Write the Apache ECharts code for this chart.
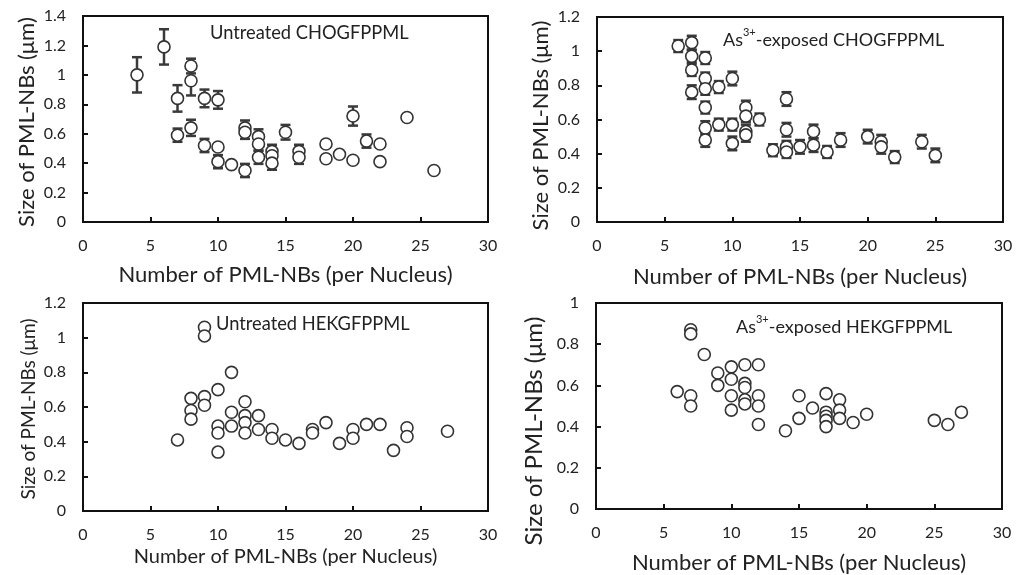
<!DOCTYPE html>
<html><head><meta charset="utf-8">
<script src="https://cdn.jsdelivr.net/npm/echarts@6/dist/echarts.min.js"></script>
<style>html,body{margin:0;padding:0;background:#fff}#c{width:1026px;height:575px}</style>
</head><body><div id="c"></div>
<script>
// Panel A: Untreated CHOGFPPML (x, size, error)
const choUntX   = [4,6,7,7,8,8,8,9,9,10,10,10,11,12,12,12,13,13,13,14,14,14,15,16,16,18,18,19,20,20,21,22,22,24,26];
const choUntY   = [1.00,1.19,0.84,0.59,1.06,0.96,0.64,0.84,0.52,0.83,0.51,0.41,0.39,0.35,0.64,0.61,0.58,0.53,0.44,0.48,0.45,0.40,0.61,0.48,0.44,0.53,0.43,0.46,0.72,0.42,0.55,0.53,0.41,0.71,0.35];
const choUntErr = [0.12,0.12,0.09,0.045,0.05,0.10,0.055,0.06,0.045,0.06,0,0.045,0,0.045,0.05,0.045,0.05,0.045,0.045,0.045,0.045,0.045,0.05,0.045,0.045,0,0,0,0.065,0,0.045,0,0,0,0];
// Panel B: As3+-exposed CHOGFPPML
const choAsX   = [6,7,7,7,7,8,8,8,8,8,8,9,9,10,10,10,11,11,11,11,12,13,14,14,14,14,15,16,16,17,18,20,21,21,22,24,25];
const choAsY   = [1.03,1.05,0.97,0.89,0.76,0.96,0.84,0.78,0.67,0.55,0.48,0.79,0.57,0.84,0.57,0.46,0.67,0.62,0.53,0.51,0.60,0.42,0.72,0.54,0.44,0.41,0.44,0.53,0.45,0.41,0.48,0.50,0.47,0.44,0.38,0.47,0.39];
const choAsErr = [0.035,0.04,0.035,0.035,0.04,0.035,0.035,0.035,0.035,0.04,0.04,0.035,0.035,0.04,0.035,0.04,0.04,0.035,0.04,0.04,0.035,0.035,0.04,0.04,0.035,0.035,0.04,0.04,0.04,0.035,0.04,0.04,0.04,0.04,0.035,0.04,0.04];
// Panel C: Untreated HEKGFPPML
const hekUntX = [7,8,8,8,9,9,9,9,10,10,10,10,11,11,11,12,12,12,12,13,13,14,14,15,16,17,17,18,19,20,20,21,22,23,24,24,27];
const hekUntY = [0.41,0.65,0.58,0.53,1.06,1.01,0.66,0.61,0.70,0.49,0.45,0.34,0.80,0.57,0.49,0.63,0.55,0.51,0.45,0.55,0.47,0.47,0.42,0.41,0.39,0.47,0.45,0.51,0.39,0.47,0.42,0.50,0.50,0.35,0.48,0.43,0.46];
// Panel D: As3+-exposed HEKGFPPML
const hekAsX = [6,7,7,7,7,8,9,9,10,10,10,10,11,11,11,11,11,12,12,12,12,14,15,15,16,17,17,17,17,17,18,18,18,19,20,25,26,27];
const hekAsY = [0.57,0.87,0.85,0.55,0.50,0.75,0.66,0.60,0.69,0.63,0.55,0.48,0.70,0.61,0.59,0.53,0.51,0.70,0.55,0.50,0.41,0.38,0.55,0.44,0.49,0.56,0.47,0.45,0.43,0.40,0.53,0.48,0.44,0.42,0.46,0.43,0.41,0.47];

const xTicks = [0,5,10,15,20,25,30];
const yMaxes = [1.4,1.2,1.2,1.0];
const titles = ['Untreated CHOGFPPML','As3+-exposed CHOGFPPML','Untreated HEKGFPPML','As3+-exposed HEKGFPPML'];
const xName = 'Number of PML-NBs (per Nucleus)';
const yName = 'Size of PML-NBs (μm)';

const FONT = 'Lato, "Open Sans", sans-serif';
const grids = [
  {left:83, top:16, width:405, height:206},
  {left:597, top:17, width:406, height:205},
  {left:83, top:303, width:405, height:208},
  {left:596, top:303, width:406, height:206}
];
const xNameCfg = [{size:22, gap:42},{size:22, gap:44},{size:20, gap:36},{size:22, gap:43}];
const yNameCfg = [{size:22, gap:45, pad:[0,6,0,0]},{size:22, gap:45, pad:[0,12,0,0]},{size:19, gap:45, pad:[0,4,0,0]},{size:24, gap:50, pad:[0,50,0,0]}];

function zip(xs, ys){ return xs.map((x,i)=>[x, ys[i]]); }
function zip3(xs, ys, es){ return xs.map((x,i)=>[x, ys[i], es[i]]); }

const option = {
  backgroundColor:'#fff',
  animation:false,
  textStyle:{fontFamily:FONT},
  grid: grids.map(g=>Object.assign({show:true, borderColor:'#111', borderWidth:2, backgroundColor:'transparent'}, g)),
  xAxis: grids.map((g,i)=>({
    gridIndex:i, type:'value', min:0, max:30, interval:5,
    name:xName, nameLocation:'middle', nameGap: xNameCfg[i].gap,
    nameTextStyle:{fontSize:xNameCfg[i].size, color:'#222', fontFamily:FONT},
    axisLine:{show:true, onZero:false, lineStyle:{color:'#111', width:2}},
    axisTick:{show:true, inside:true, length:5, lineStyle:{color:'#111', width:2}},
    axisLabel:{fontSize:16, color:'#222', margin:16, fontFamily:FONT},
    splitLine:{show:false}
  })),
  yAxis: grids.map((g,i)=>({
    gridIndex:i, type:'value', min:0, max:yMaxes[i], interval:0.2,
    name:yName, nameLocation:'middle', nameGap: yNameCfg[i].gap,
    nameTextStyle:{fontSize:yNameCfg[i].size, color:'#222', fontFamily:FONT, padding:yNameCfg[i].pad},
    axisLine:{show:true, lineStyle:{color:'#111', width:2}},
    axisTick:{show:true, inside:true, length:5, lineStyle:{color:'#111', width:2}},
    axisLabel:{fontSize:16, color:'#222', margin:17, fontFamily:FONT},
    splitLine:{show:false}
  })),
  title: [
    {text:titles[0], left:210, top:24, fs:18.3},
    {text:'{n|As}{s|3+}{n|-exposed CHOGFPPML}', left:723, top:27, fs:18},
    {text:titles[2], left:216, top:315, fs:18.3},
    {text:'{n|As}{s|3+}{n|-exposed HEKGFPPML}', left:736, top:314, fs:18}
  ].map(t=>({
    text:t.text, left:t.left, top:t.top,
    padding:0,
    textStyle:{fontSize:t.fs, fontWeight:'normal', color:'#222', fontFamily:FONT,
      rich:{n:{fontSize:18, color:'#222', fontFamily:FONT, lineHeight:22, verticalAlign:'bottom'},
            s:{fontSize:11, color:'#222', fontFamily:FONT, lineHeight:22, verticalAlign:'top', padding:[0,0,9,0]}}}
  })),
  series: []
};

function errSeries(idx, data){
  return {
    type:'custom', xAxisIndex:idx, yAxisIndex:idx, z:2,
    renderItem:function(params, api){
      const x = api.value(0), y = api.value(1), e = api.value(2);
      if (!e) return null;
      const top = api.coord([x, y+e]);
      const bot = api.coord([x, y-e]);
      const w = 5;
      const st = {stroke:'#3a3a3a', lineWidth:2.5};
      return {type:'group', children:[
        {type:'line', shape:{x1:top[0], y1:top[1], x2:bot[0], y2:bot[1]}, style:st},
        {type:'line', shape:{x1:top[0]-w, y1:top[1], x2:top[0]+w, y2:top[1]}, style:st},
        {type:'line', shape:{x1:bot[0]-w, y1:bot[1], x2:bot[0]+w, y2:bot[1]}, style:st}
      ]};
    },
    data:data
  };
}
function scatSeries(idx, data){
  return {
    type:'scatter', xAxisIndex:idx, yAxisIndex:idx, z:3,
    symbol:'circle', symbolSize:12,
    itemStyle:{color:'#fff', borderColor:'#333', borderWidth:1.6, opacity:1},
    data:data
  };
}
option.series.push(errSeries(0, zip3(choUntX, choUntY, choUntErr)));
option.series.push(scatSeries(0, zip(choUntX, choUntY)));
option.series.push(errSeries(1, zip3(choAsX, choAsY, choAsErr)));
option.series.push(scatSeries(1, zip(choAsX, choAsY)));
option.series.push(scatSeries(2, zip(hekUntX, hekUntY)));
option.series.push(scatSeries(3, zip(hekAsX, hekAsY)));

const chart = echarts.init(document.getElementById('c'), null, {renderer:'canvas'});
chart.setOption(option);
</script>
</body></html>
